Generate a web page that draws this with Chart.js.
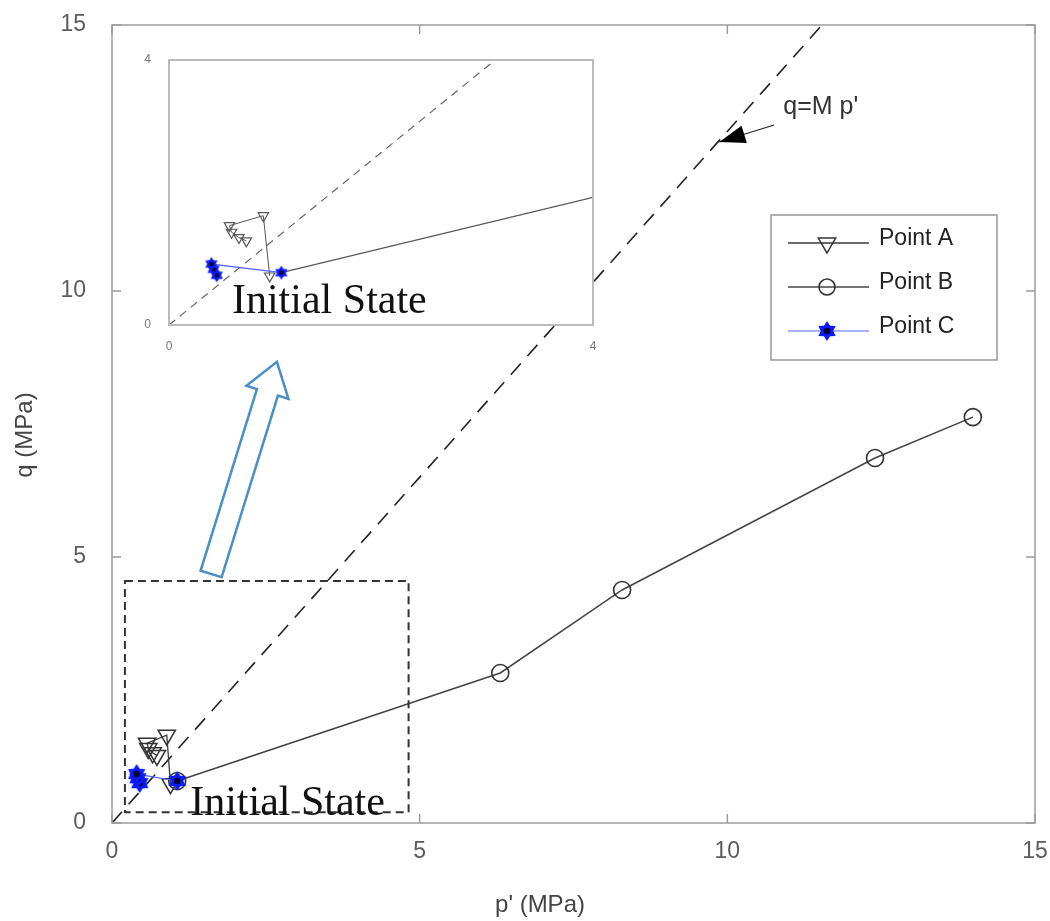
<!DOCTYPE html>
<html>
<head>
<meta charset="utf-8">
<script src="https://cdn.jsdelivr.net/npm/chart.js@4.4.1/dist/chart.umd.min.js"></script>
<style>
  body { margin: 0; background: #fff; }
  #wrap { position: relative; width: 1050px; height: 921px; }
  #main { position: absolute; left: 0; top: 0; }
  #inset { position: absolute; left: 130px; top: 40px; }
</style>
</head>
<body>
<div id="wrap">
  <canvas id="main" width="1050" height="921"></canvas>
  <canvas id="inset" width="480" height="320"></canvas>
</div>
<script>
// Stress paths in p'-q space (MPa)
const pointA_p = [0.95, 0.89, 0.57, 0.59, 0.66, 0.73];
const pointA_q = [0.74, 1.65, 1.50, 1.40, 1.32, 1.27];
const pointB_p = [1.06, 6.31, 8.29, 12.40, 13.99];
const pointB_q = [0.79, 2.82, 4.38, 6.86, 7.63];
const pointC_p = [0.45, 0.42, 0.40, 1.06];
const pointC_q = [0.75, 0.84, 0.92, 0.79];

// Critical state line q = M p'
const M = 1.3;
const cslP = [0, 15 / M];
const cslQ = [0, 15];

const mainTicks = [0, 5, 10, 15];
const insetTicks = [0, 4];
const legendOrder = ['Point A', 'Point B', 'Point C'];

// Region around the initial state that the inset enlarges
const zoomBoxP = [0.21, 4.82];
const zoomBoxQ = [0.2, 4.55];

const SANS = "'Liberation Sans', Arial, sans-serif";
const SERIF = "'Liberation Serif', 'Times New Roman', serif";

function toXY(xs, ys) {
  return xs.map((x, i) => ({ x: x, y: ys[i] }));
}

// Filled blue six-point star with a dark centre
function makeStar(r) {
  const c = document.createElement('canvas');
  c.width = c.height = 2 * r + 2;
  const ctx = c.getContext('2d');
  const cx = r + 1, cy = r + 1;
  ctx.fillStyle = '#0a1cff';
  ctx.beginPath();
  for (let k = 0; k < 12; k++) {
    const a = -Math.PI / 2 + k * Math.PI / 6;
    const rr = k % 2 === 0 ? r : r * 0.62;
    ctx.lineTo(cx + rr * Math.cos(a), cy + rr * Math.sin(a));
  }
  ctx.closePath();
  ctx.fill();
  ctx.fillStyle = '#00002a';
  ctx.beginPath();
  ctx.arc(cx, cy, r * 0.33, 0, 2 * Math.PI);
  ctx.fill();
  return c;
}

function fixedTicks(values) {
  return function(scale) {
    scale.ticks = values.map(v => ({ value: v }));
  };
}

// Gray box round the plot area with inward tick marks on all four sides
const axesBox = {
  id: 'axesBox',
  afterDatasetsDraw(chart, args, opts) {
    const { ctx, chartArea: a, scales } = chart;
    ctx.save();
    ctx.strokeStyle = opts.color;
    ctx.lineWidth = opts.width;
    ctx.strokeRect(a.left, a.top, a.right - a.left, a.bottom - a.top);
    if (opts.tickLength) {
      ctx.beginPath();
      scales.x.ticks.forEach(t => {
        const px = scales.x.getPixelForValue(t.value);
        ctx.moveTo(px, a.bottom); ctx.lineTo(px, a.bottom - opts.tickLength);
        ctx.moveTo(px, a.top); ctx.lineTo(px, a.top + opts.tickLength);
      });
      scales.y.ticks.forEach(t => {
        const py = scales.y.getPixelForValue(t.value);
        ctx.moveTo(a.left, py); ctx.lineTo(a.left + opts.tickLength, py);
        ctx.moveTo(a.right, py); ctx.lineTo(a.right - opts.tickLength, py);
      });
      ctx.stroke();
    }
    ctx.restore();
  }
};

// Axis titles, placed relative to the plot area
const axisTitles = {
  id: 'axisTitles',
  afterDraw(chart, args, opts) {
    const { ctx, chartArea: a } = chart;
    ctx.save();
    ctx.fillStyle = opts.color;
    ctx.font = opts.font;
    ctx.textAlign = 'center';
    ctx.textBaseline = 'middle';
    ctx.fillText(opts.xText, a.left + opts.xCenter, a.bottom + opts.xOffset);
    ctx.translate(a.left - opts.yOffset, a.top + opts.yCenter);
    ctx.rotate(-Math.PI / 2);
    ctx.fillText(opts.yText, 0, 0);
    ctx.restore();
  }
};

// White backing for the inset plot area
const whiteArea = {
  id: 'whiteArea',
  beforeDraw(chart) {
    const { ctx, chartArea: a } = chart;
    ctx.save();
    ctx.fillStyle = '#fff';
    ctx.fillRect(a.left, a.top, a.right - a.left, a.bottom - a.top);
    ctx.restore();
  }
};

// "Initial State" caption, placed in data units
const caption = {
  id: 'caption',
  afterDatasetsDraw(chart, args, opts) {
    const { ctx, scales } = chart;
    ctx.save();
    ctx.font = opts.font;
    ctx.fillStyle = '#111';
    ctx.textAlign = 'left';
    ctx.textBaseline = 'alphabetic';
    ctx.fillText(opts.text, scales.x.getPixelForValue(opts.x), scales.y.getPixelForValue(opts.y));
    ctx.restore();
  }
};

function arrowHead(ctx, x0, y0, x1, y1, len, half) {
  const ang = Math.atan2(y1 - y0, x1 - x0);
  ctx.beginPath();
  ctx.moveTo(x1, y1);
  ctx.lineTo(x1 - len * Math.cos(ang) + half * Math.sin(ang), y1 - len * Math.sin(ang) - half * Math.cos(ang));
  ctx.lineTo(x1 - len * Math.cos(ang) - half * Math.sin(ang), y1 - len * Math.sin(ang) + half * Math.cos(ang));
  ctx.closePath();
  ctx.fill();
}

// Zoom box, hollow pointer arrow and the CSL label on the main axes
const mainNotes = {
  id: 'mainNotes',
  afterDatasetsDraw(chart) {
    const { ctx, scales: { x, y } } = chart;
    ctx.save();

    // dashed box around the initial state
    ctx.strokeStyle = '#333';
    ctx.lineWidth = 2;
    ctx.setLineDash([8, 5]);
    const bx0 = x.getPixelForValue(zoomBoxP[0]), bx1 = x.getPixelForValue(zoomBoxP[1]);
    const by0 = y.getPixelForValue(zoomBoxQ[0]), by1 = y.getPixelForValue(zoomBoxQ[1]);
    ctx.strokeRect(bx0, by1, bx1 - bx0, by0 - by1);
    ctx.setLineDash([]);

    // hollow arrow pointing up to the inset
    const tx = x.getPixelForValue(1.61), ty = y.getPixelForValue(4.68);
    const hx = x.getPixelForValue(2.68), hy = y.getPixelForValue(8.67);
    const ang = Math.atan2(hy - ty, hx - tx);
    const ux = Math.cos(ang), uy = Math.sin(ang);
    const nx = -uy, ny = ux;
    const shaft = 11, wing = 22, headLen = 32;
    const bx = hx - headLen * ux, byy = hy - headLen * uy;
    ctx.strokeStyle = '#4a8fc7';
    ctx.lineWidth = 2.5;
    ctx.beginPath();
    ctx.moveTo(tx + shaft * nx, ty + shaft * ny);
    ctx.lineTo(bx + shaft * nx, byy + shaft * ny);
    ctx.lineTo(bx + wing * nx, byy + wing * ny);
    ctx.lineTo(hx, hy);
    ctx.lineTo(bx - wing * nx, byy - wing * ny);
    ctx.lineTo(bx - shaft * nx, byy - shaft * ny);
    ctx.lineTo(tx - shaft * nx, ty - shaft * ny);
    ctx.closePath();
    ctx.stroke();

    // q = M p' label with its pointer
    const lx0 = x.getPixelForValue(10.76), ly0 = y.getPixelForValue(13.12);
    const lx1 = x.getPixelForValue(9.87), ly1 = y.getPixelForValue(12.80);
    ctx.strokeStyle = '#222';
    ctx.fillStyle = '#000';
    ctx.lineWidth = 1.2;
    ctx.beginPath();
    ctx.moveTo(lx0, ly0);
    ctx.lineTo(lx1, ly1);
    ctx.stroke();
    arrowHead(ctx, lx0, ly0, lx1, ly1, 26, 9);
    ctx.font = '25px ' + SANS;
    ctx.fillStyle = '#333';
    ctx.textBaseline = 'middle';
    ctx.fillText("q=M p'", x.getPixelForValue(10.91), y.getPixelForValue(13.46));
    ctx.restore();
  }
};

// Boxed legend inside the axes, drawn from the dataset styles
const boxLegend = {
  id: 'boxLegend',
  afterDraw(chart, args, opts) {
    const { ctx, chartArea: a } = chart;
    const sets = chart.data.datasets;
    const items = legendOrder.map(name => sets.find(d => d.label === name));
    const left = a.right - opts.right - opts.width;
    const top = a.top + opts.top;
    ctx.save();
    ctx.fillStyle = '#fff';
    ctx.fillRect(left, top, opts.width, opts.height);
    ctx.strokeStyle = '#999';
    ctx.lineWidth = 1.5;
    ctx.strokeRect(left, top, opts.width, opts.height);
    items.forEach((d, i) => {
      const cy = top + opts.firstRow + i * opts.rowGap;
      ctx.strokeStyle = d.borderColor;
      ctx.lineWidth = d.borderWidth;
      ctx.beginPath();
      ctx.moveTo(left + 17, cy);
      ctx.lineTo(left + 98, cy);
      ctx.stroke();
      ctx.fillStyle = d.pointBackgroundColor;
      ctx.strokeStyle = d.pointBorderColor;
      ctx.lineWidth = d.pointBorderWidth;
      Chart.helpers.drawPoint(ctx, {
        pointStyle: d.pointStyle,
        rotation: d.pointRotation || 0,
        radius: d.legendRadius,
        borderWidth: d.pointBorderWidth
      }, left + 56, cy);
      ctx.fillStyle = '#222';
      ctx.font = opts.font;
      ctx.textBaseline = 'middle';
      ctx.fillText(d.label, left + 108, cy - 4);
    });
    ctx.restore();
  }
};

const starMain = makeStar(10);
const starInset = makeStar(7);

function pathSets(size) {
  const big = size === 'main';
  return [
    {
      label: 'Point C',
      data: toXY(pointC_p, pointC_q),
      showLine: true,
      borderColor: '#5566ff',
      borderWidth: 1.2,
      pointStyle: big ? starMain : starInset,
      pointBackgroundColor: '#0a1cff',
      pointBorderColor: '#0a1cff',
      pointBorderWidth: 1,
      legendRadius: 8,
      order: 0
    },
    {
      label: 'Point A',
      data: toXY(pointA_p, pointA_q),
      showLine: true,
      borderColor: big ? '#3a3a3a' : '#555',
      borderWidth: big ? 1.3 : 1,
      pointStyle: 'triangle',
      pointRotation: 180,
      pointRadius: big ? 10 : 6,
      pointBackgroundColor: 'rgba(0,0,0,0)',
      pointBorderColor: big ? '#333' : '#555',
      pointBorderWidth: big ? 1.5 : 1.2,
      legendRadius: 10,
      order: 1
    },
    {
      label: 'Point B',
      data: toXY(pointB_p, pointB_q),
      showLine: true,
      borderColor: big ? '#444' : '#555',
      borderWidth: big ? 1.5 : 1.2,
      pointStyle: 'circle',
      pointRadius: big ? 8.5 : 0,
      pointBackgroundColor: 'rgba(0,0,0,0)',
      pointBorderColor: '#333',
      pointBorderWidth: 1.6,
      legendRadius: 8,
      order: 2
    },
    {
      label: 'CSL',
      data: toXY(cslP, cslQ),
      showLine: true,
      borderColor: big ? '#222' : '#666',
      borderWidth: big ? 1.6 : 1.2,
      borderDash: big ? [15, 10] : [8, 6],
      pointRadius: 0,
      order: 3
    }
  ];
}

function noScalePadding(scale) {
  scale.paddingTop = 0;
  scale.paddingBottom = 0;
  scale.paddingLeft = 0;
  scale.paddingRight = 0;
}

const mainChart = new Chart(document.getElementById('main'), {
  type: 'scatter',
  data: { datasets: pathSets('main') },
  options: {
    responsive: false,
    animation: false,
    layout: { padding: { left: 0, right: 15, top: 25, bottom: 0 } },
    plugins: {
      legend: { display: false },
      tooltip: { enabled: false },
      axesBox: { color: '#9c9c9c', width: 1.5, tickLength: 9 },
      boxLegend: { right: 38, top: 190, width: 226, height: 145, firstRow: 28, rowGap: 44, font: '23px ' + SANS },
      axisTitles: {
        color: '#444', font: '24px ' + SANS,
        xText: "p' (MPa)", xCenter: 428, xOffset: 82,
        yText: 'q (MPa)', yOffset: 87, yCenter: 410
      }
    },
    scales: {
      x: {
        type: 'linear', min: 0, max: 15,
        afterBuildTicks: fixedTicks(mainTicks),
        afterFit(scale) { scale.height = 98; noScalePadding(scale); },
        grid: { display: false },
        border: { display: false },
        ticks: { padding: 7, color: '#5c5c5c', font: { family: SANS, size: 23 } }
      },
      y: {
        type: 'linear', min: 0, max: 15,
        afterBuildTicks: fixedTicks(mainTicks),
        afterFit(scale) { scale.width = 112; noScalePadding(scale); },
        grid: { display: false },
        border: { display: false },
        ticks: { padding: 18, color: '#5c5c5c', font: { family: SANS, size: 23 } }
      }
    }
  },
  plugins: [axesBox, mainNotes, boxLegend, axisTitles,
    { id: 'mainCaption', afterDatasetsDraw(c) { caption.afterDatasetsDraw(c, null, { text: 'Initial State', x: 1.27, y: 0.15, font: '42px ' + SERIF }); } }]
});

const insetChart = new Chart(document.getElementById('inset'), {
  type: 'scatter',
  data: { datasets: pathSets('inset') },
  options: {
    responsive: false,
    animation: false,
    layout: { padding: { left: 0, right: 17, top: 20, bottom: 0 } },
    plugins: {
      legend: { display: false },
      tooltip: { enabled: false },
      axesBox: { color: '#bbb', width: 2, tickLength: 0 }
    },
    datasets: { scatter: { clip: 0 } },
    scales: {
      x: {
        type: 'linear', min: 0, max: 4,
        afterBuildTicks: fixedTicks(insetTicks),
        afterFit(scale) { scale.height = 35; noScalePadding(scale); },
        grid: { display: false },
        border: { display: false },
        ticks: { padding: 6, color: '#777', font: { family: SANS, size: 12 } }
      },
      y: {
        type: 'linear', min: 0, max: 4,
        afterBuildTicks: fixedTicks(insetTicks),
        afterFit(scale) { scale.width = 39; noScalePadding(scale); },
        grid: { display: false },
        border: { display: false },
        ticks: { padding: 10, color: '#777', font: { family: SANS, size: 12 } }
      }
    }
  },
  plugins: [whiteArea, axesBox,
    { id: 'insetCaption', afterDatasetsDraw(c) { caption.afterDatasetsDraw(c, null, { text: 'Initial State', x: 0.594, y: 0.18, font: '42px ' + SERIF }); } }]
});
</script>
</body>
</html>
